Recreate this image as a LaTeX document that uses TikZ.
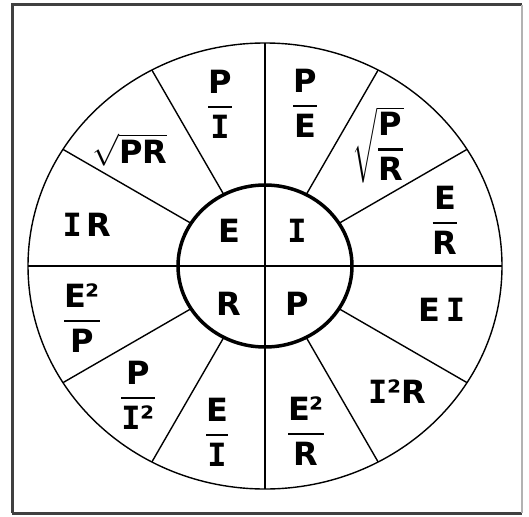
\documentclass[tikz,border=0pt]{standalone}
\usepackage{fix-cm}
\usepackage{amsmath}
\usepackage{fontspec}
\setmainfont{DejaVu Sans}
\newfontfamily\serI{DejaVu Sans Mono}
\usetikzlibrary{shapes.geometric}
\newcommand\Ii{{\serI\bfseries I}}
\newcommand\frc[2]{\ensuremath{\genfrac{}{}{2.2pt}{0}{\text{#1}}{\text{#2}}}}
\tikzset{
	rimline/.style ={ellipse, draw, line width=1.4pt, inner sep=0pt, outer sep=0pt, minimum width=474pt, minimum height=446pt},
	hubline/.style ={ellipse, draw, line width=3.5pt, inner sep=0pt, outer sep=0pt, minimum width=174pt, minimum height=162pt},
	spoke/.style   ={line width=1.4pt},
	cross/.style   ={line width=1.8pt},
	frameline/.style={line width=3pt, black!75},
	lbl/.style     ={inner sep=0pt, font=\fontsize{32}{38}\selectfont\bfseries},
}

\begin{document}
\begin{tikzpicture}[x=1pt, y=-1pt]
	\useasboundingbox (0,0) rectangle (529,516);
	% frame
	\draw[frameline] (12,513) -- (12,5) -- (522,5);
	\draw[frameline] (12,513) -- (522,513);
	\draw[line width=1.5pt, black!30] (522,5) -- (522,513);
	% wheel
	\node[rimline] (rim) at (265,266) {};
	\node[hubline] (hub) at (265,266) {};
	\draw[cross] (rim.west) -- (rim.east);
	\draw[cross] (rim.north) -- (rim.south);
	\foreach \a in {30,60,120,150,210,240,300,330}
		\draw[spoke] (hub.\a) -- (rim.\a);
	% hub letters
	\node[lbl] (hE) at (229,231) {E};
	\node[lbl] (hI) at (297,231) {\Ii};
	\node[lbl] (hR) at (229,304) {R};
	\node[lbl] (hP) at (297,304) {P};
	% outer formulas
	\node[lbl] (pOverI)  at (220,104) {\frc{P}{\Ii}};
	\node[lbl] (pOverE)  at (305,103) {\frc{P}{E}};
	\node[lbl] (rootPR2) at (378,145) {$\sqrt{\frc{P}{R}}$};
	\node[lbl] (eOverR)  at (445,220) {\frc{E}{R}};
	\node[lbl] (eTimesI) at (442,310) {E\hspace{5pt}\Ii};
	\node[lbl] (iSqR)    at (397,392) {\Ii²R};
	\node[lbl] (eSqOverR) at (306,431) {\frc{E²}{R}};
	\node[lbl] (eOverI)  at (217,432) {\frc{E}{\Ii}};
	\node[lbl] (pOverISq) at (138,395) {\frc{P}{\Ii²}};
	\node[lbl] (eSqOverP) at (82,318) {\frc{E²}{P}};
	\node[lbl] (iTimesR) at (87,225) {\Ii\hspace{5pt}R};
	\node[lbl] (rootPR)  at (130,150) {$\sqrt{\text{PR}}$};
\end{tikzpicture}
\end{document}
